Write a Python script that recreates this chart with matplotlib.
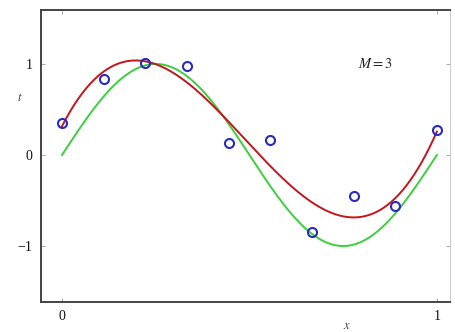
import numpy as np
import matplotlib
matplotlib.use("Agg")
import matplotlib.pyplot as plt

plt.rcParams['font.family'] = ['Liberation Serif', 'DejaVu Serif']
plt.rcParams['mathtext.fontset'] = 'stix'

# Observed training points
x_obs = [0.0, 1/9, 2/9, 3/9, 4/9, 5/9, 6/9, 7/9, 8/9, 1.0]
t_obs = [0.35, 0.84, 1.01, 0.98, 0.13, 0.16, -0.85, -0.45, -0.56, 0.27]
order_M = 3

x_ticks = [0, 1]
y_ticks = [-1, 0, 1]

W, H = 456, 332
fig = plt.figure(figsize=(W / 100, H / 100), dpi=100)
ax = fig.add_axes([41 / W, 1 - 302 / H, (450 - 41) / W, (302 - 10) / H])

xs = np.linspace(0, 1, 300)
# underlying generating curve
ax.plot(xs, np.sin(2 * np.pi * xs), color='#3ccf3c', lw=1.4, zorder=2)
# cubic least-squares fit to the observed points
coef = np.polyfit(x_obs, t_obs, order_M)
ax.plot(xs, np.polyval(coef, xs), color='#c4151c', lw=1.4, zorder=3)
ax.plot(x_obs, t_obs, 'o', ms=6.5, mfc='none', mec='#2a2ac0', mew=1.5, zorder=4)

ax.set_xlim(-0.056, 1.035)
ax.set_ylim(-1.615, 1.593)
ax.set_xticks(x_ticks)
ax.set_yticks(y_ticks)
ax.set_xticklabels(['0', '1'])
ax.set_yticklabels(['1' if v == 1 else ('0' if v == 0 else '\u22121') for v in y_ticks])
ax.tick_params(direction='in', length=3, width=0.6, colors='#999999',
               labelcolor='#111111', labelsize=10, top=True, right=True, pad=6)

for side in ['left', 'top', 'bottom']:
    ax.spines[side].set_color('#444444')
    ax.spines[side].set_linewidth(1.4)
ax.spines['right'].set_color('#cccccc')
ax.spines['right'].set_linewidth(0.8)

ax.text(0.835, 1.0, r'$M=3$', fontsize=10.5, color='#222222', ha='center', va='center')
fig.text(20 / W, 1 - 98 / H, r'$t$', fontsize=9, color='#444444', ha='center', va='center')
fig.text(347 / W, 1 - 326 / H, r'$x$', fontsize=9, color='#444444', ha='center', va='center')

fig.savefig('out.png', dpi=100)
